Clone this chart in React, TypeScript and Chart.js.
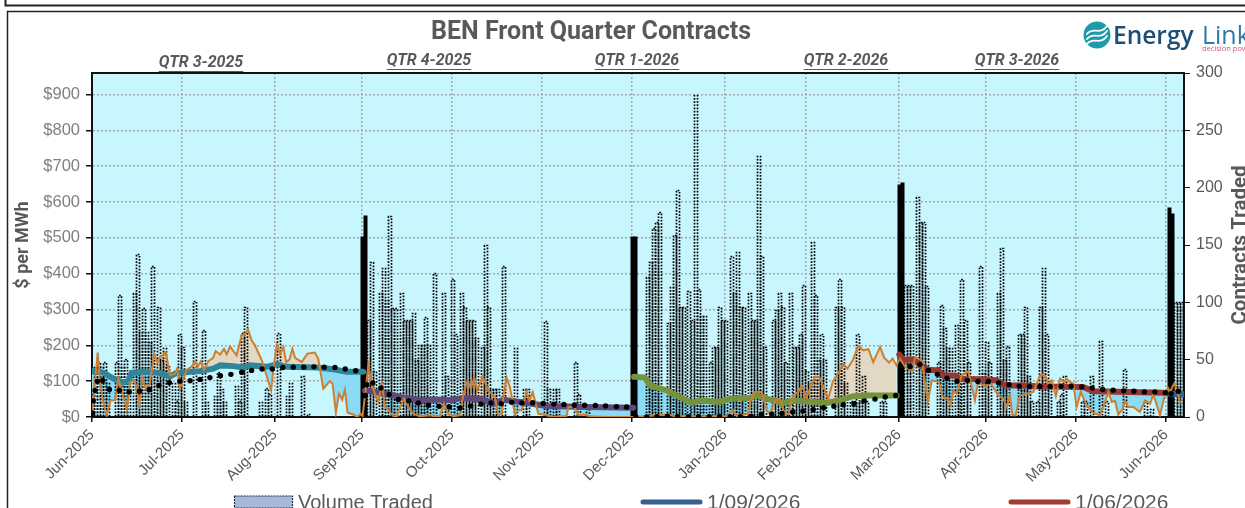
import React, { useEffect, useRef } from "react";
import { Chart, registerables } from "chart.js";

Chart.register(...registerables);

// x axis: day position along the trading calendar
const monthDays = [0, 30, 61, 90, 120, 150, 180, 211, 238, 269, 298, 328, 358];
const monthLabels = ["Jun-2025", "Jul-2025", "Aug-2025", "Sep-2025", "Oct-2025", "Nov-2025", "Dec-2025", "Jan-2026", "Feb-2026", "Mar-2026", "Apr-2026", "May-2026", "Jun-2026"];

// daily price (orange)
const priceDays = [0, 0.7, 1.9, 2.7, 3.6, 4.9, 6.2, 7.7, 8.8, 9.9, 11.6, 12.7, 14.3, 15.8, 16.8, 17.9, 19.3, 20.7, 21.8, 22.7, 24.6, 26, 27.7, 28.4, 29.3, 31.6, 33.2, 34.3, 35.2, 36.3, 37.3, 38.8, 40.4, 41.2, 42.7, 44, 44.9, 46, 48.2, 49.9, 51, 52, 53.2, 54.3, 56.6, 58.2, 59.7, 60.4, 61.6, 62.7, 63.8, 64.7, 65.8, 66.8, 67.7, 69.9, 71.8, 74.3, 75.4, 77.1, 79.3, 80.2, 81.3, 82.3, 83.4, 84.3, 85.2, 87.1, 88.4, 89.6, 90.2, 91.3, 92.1, 93.2, 94.3, 95.4, 96.6, 97.7, 98.8, 100.4, 101.6, 102.7, 104, 105.8, 107.1, 109.3, 112.7, 114.3, 116, 117.3, 118.8, 120.4, 122.7, 123.8, 125.2, 126.3, 127.4, 128.4, 130.2, 132.1, 134.3, 135.4, 136.6, 137.1, 138.2, 139.3, 141, 142.1, 143.2, 144.9, 145.8, 146.9, 148.8, 150.4, 153.8, 158.2, 158.8, 160.8, 162.1, 163.8, 166, 171.6, 180.4, 192.1, 194.3, 211.6, 213.6, 214.9, 218.8, 219.6, 221, 223.2, 224.9, 226, 227.7, 229.3, 231, 232.1, 233.6, 235.4, 236.6, 238.2, 241, 242.4, 244.3, 245.4, 246.9, 249.3, 250.4, 251.8, 253.6, 255.4, 257.1, 258.8, 260.4, 262.7, 264.1, 265.7, 266.9, 268.2, 269.3, 271, 273.6, 274.3, 276.6, 278.6, 279.9, 282.4, 283.4, 285.4, 286.2, 287.1, 288.2, 289.9, 292.1, 294.3, 295.4, 297.9, 299.3, 302.1, 303.8, 304.9, 306, 306.8, 307.9, 309.3, 311.6, 313.8, 316, 317.4, 318.8, 319.9, 321.3, 322.7, 324, 324.9, 326, 327.1, 328.2, 329.6, 331, 332.1, 333.8, 336, 337.1, 338.8, 339.9, 341, 342.1, 343.6, 344.3, 345.4, 347.1, 349.3, 351, 352.7, 353.8, 356, 357.7, 358.6, 359.3, 360.7, 361.8, 362.7];
const priceValues = [19, 70, 180, 93, 47, 5, 47, 47, 107, 74, 20, 98, 102, 37, 109, 79, 93, 177, 153, 167, 181, 116, 121, 135, 79, 132, 140, 156, 140, 156, 130, 156, 165, 184, 174, 190, 175, 197, 172, 228, 230, 245, 214, 200, 158, 116, 74, 130, 202, 177, 195, 153, 160, 190, 165, 153, 177, 180, 163, 79, 100, 93, 12, 65, 48, 76, 12, 7, 0, 9, 3, 80, 144, 93, 65, 42, 93, 28, 19, 3, 0, 28, 51, 23, 9, 2, 5, 2, 3, 37, 9, 2, 5, 65, 102, 79, 110, 74, 113, 74, 56, 5, 9, 56, 110, 84, 7, 19, 19, 70, 46, 70, 9, 7, 0, 3, 28, 28, 5, 7, 2, 0, 0, 7, 2, 2, 20, 3, 9, 46, 70, 70, 19, 9, 46, 51, 7, 9, 59, 70, 88, 56, 113, 112, 74, 51, 98, 130, 149, 135, 158, 198, 186, 189, 153, 195, 165, 152, 163, 144, 163, 140, 128, 167, 158, 42, 102, 98, 56, 51, 33, 74, 65, 116, 128, 46, 98, 84, 98, 60, 51, 28, 60, 5, 5, 60, 65, 70, 116, 119, 93, 102, 58, 107, 98, 107, 98, 93, 28, 70, 42, 28, 11, 5, 28, 70, 42, 45, 7, 23, 46, 28, 28, 14, 46, 37, 63, 5, 65, 82, 70, 93, 74, 37];

// front-quarter forward curve (thick line)
const curveDays = [0, 3.8, 7.1, 10.4, 12.1, 13.2, 17.1, 22.7, 26, 28.2, 36, 40.4, 42.7, 47.1, 50.4, 52.7, 58.2, 61.6, 64.9, 74.9, 80.4, 84.9, 90.4, 91, 98.2, 102.7, 109.3, 117.1, 119.3, 123.8, 130.4, 133.8, 137.1, 142.7, 151.6, 164.9, 180.4, 180.7, 184.3, 186, 191.6, 197.1, 199.9, 202.7, 209.3, 212.7, 219.3, 221.6, 224.9, 230.4, 233.8, 244.9, 249.3, 253.8, 258.2, 268.2, 269.1, 270.4, 274.3, 276, 278.8, 282.1, 283.8, 287.7, 289.3, 298.2, 301.6, 304.3, 310.4, 316, 330.4, 333.8, 357.1, 358.2, 363.8];
const curveValues = [128, 124, 107, 96, 100, 123, 126, 123, 113, 123, 128, 135, 144, 142, 138, 144, 140, 147, 140, 138, 133, 126, 126, 74, 65, 56, 47, 49, 47, 53, 49, 37, 48, 42, 31, 28, 26, 112, 110, 88, 74, 51, 39, 46, 42, 51, 53, 60, 51, 39, 46, 39, 47, 58, 60, 60, 174, 160, 160, 144, 132, 130, 116, 116, 107, 105, 102, 88, 88, 85, 84, 72, 68, 66, 63];
const curveBreaks = [90.7, 180.5, 268.7, 358];
const curveColors = ["#31859b", "#5f497a", "#76923c", "#953735", "#366092"];

// prior-date forward curve (black dots)
const dotDays = [0.2, 0.4, 1, 1.8, 3.6, 5.8, 9.1, 12.4, 15.8, 19.1, 22.3, 25.8, 29.3, 32.7, 36, 39.3, 42.8, 46.3, 49.9, 53.2, 56.7, 60.1, 63.6, 67.1, 70.6, 74, 77.4, 81, 84.4, 87.9, 91.1, 91.6, 93.6, 96.3, 99.1, 102.1, 105.6, 108.8, 112.1, 115.7, 119.1, 122.7, 126.2, 129.7, 133, 136.4, 139.9, 143.3, 146.9, 150.4, 153.9, 157.3, 160.8, 164.2, 167.8, 171.2, 174.8, 178.2, 181.3, 184.9, 188.3, 191.8, 195.2, 198.8, 202.2, 205.7, 209.2, 212.7, 216.1, 219.7, 223.1, 226.6, 230, 233.6, 237, 240.4, 243.9, 247.3, 250.4, 254, 257.4, 261, 264.4, 267.9, 272.7, 276, 278.8, 281.8, 285, 288.3, 291.8, 295.3, 298.8, 302.2, 305.7, 309.1, 312.5, 316, 319.4, 323, 326.4, 329.9, 333.4, 336.9, 340.4, 343.9, 347.3, 350.8, 354.3, 357.8, 359.7, 362.1];
const dotValues = [11, 45, 74, 100, 102, 77, 74, 70, 72, 76, 88, 96, 100, 101, 105, 110, 115, 119, 125, 130, 134, 134, 138, 139, 139, 140, 139, 138, 134, 129, 60, 90, 95, 81, 63, 49, 45, 39, 33, 30, 28, 25, 31, 36, 39, 37, 41, 39, 40, 38, 36, 35, 33, 33, 32, 31, 29, 28, 0, 0, 1, 2, 1, 1, 1, 1, 1, 1, 1, 2, 7, 8, 10, 14, 17, 21, 26, 30, 34, 37, 45, 50, 56, 60, 141, 147, 130, 119, 108, 100, 102, 99, 99, 95, 90, 86, 85, 85, 85, 86, 86, 84, 81, 77, 75, 73, 72, 70, 70, 68, 65, 72];

// contracts traded (bars, right axis)
const volumeDays = [0, 1, 2, 3, 4, 5, 8, 9, 10, 11, 12, 14, 15, 16, 17, 18, 19, 20, 21, 22, 23, 24, 25, 27, 28, 29, 30, 31, 34, 37, 38, 41, 42, 43, 44, 48, 49, 50, 51, 52, 56, 58, 59, 62, 65, 66, 70, 72, 90, 91, 92, 93, 94, 96, 97, 98, 99, 100, 101, 103, 104, 105, 106, 107, 108, 109, 110, 111, 112, 114, 117, 118, 120, 121, 123, 124, 125, 126, 127, 128, 130, 131, 132, 133, 134, 135, 137, 141, 144, 145, 151, 152, 154, 155, 161, 162, 165, 180, 181, 185, 186, 187, 188, 189, 192, 193, 194, 195, 196, 197, 199, 200, 201, 202, 203, 204, 206, 207, 208, 209, 210, 211, 213, 214, 215, 216, 217, 219, 220, 221, 222, 223, 224, 227, 228, 229, 230, 231, 233, 234, 235, 236, 237, 238, 239, 240, 241, 242, 243, 244, 248, 249, 250, 251, 253, 254, 255, 256, 257, 258, 263, 264, 269, 270, 271, 272, 273, 275, 276, 277, 278, 282, 283, 284, 285, 286, 288, 289, 290, 291, 292, 296, 297, 298, 299, 302, 303, 304, 305, 309, 310, 311, 312, 313, 315, 316, 317, 318, 319, 322, 323, 324, 330, 331, 333, 336, 338, 344, 351, 353, 359, 360, 361, 362, 363, 364];
const volumeContracts = [20, 44, 48, 44, 48, 30, 48, 106, 44, 51, 30, 108, 142, 74, 95, 74, 65, 132, 35, 96, 50, 60, 45, 30, 14, 72, 61, 13, 101, 76, 13, 18, 39, 24, 13, 27, 14, 73, 96, 1, 13, 25, 20, 73, 18, 30, 36, 3, 157, 175, 85, 135, 40, 108, 130, 102, 175, 95, 95, 108, 85, 85, 85, 91, 50, 63, 63, 87, 63, 126, 108, 36, 120, 72, 108, 96, 85, 85, 85, 69, 61, 150, 96, 24, 24, 24, 132, 60, 24, 24, 84, 24, 24, 24, 48, 20, 7, 157, 157, 122, 135, 165, 170, 179, 82, 113, 159, 198, 96, 96, 110, 85, 281, 112, 88, 88, 48, 61, 61, 96, 85, 85, 140, 108, 144, 96, 96, 108, 85, 85, 228, 140, 61, 85, 93, 108, 96, 48, 108, 61, 61, 72, 115, 40, 30, 153, 106, 50, 72, 50, 96, 120, 96, 30, 14, 14, 72, 14, 36, 14, 14, 14, 202, 204, 115, 115, 115, 192, 170, 170, 114, 48, 98, 78, 60, 60, 80, 35, 120, 85, 48, 132, 38, 65, 48, 108, 147, 50, 62, 72, 72, 96, 36, 14, 14, 96, 130, 72, 26, 14, 20, 36, 14, 14, 36, 66, 14, 42, 14, 7, 182, 177, 100, 100, 100, 100];
const rollDays = [90, 91, 180, 181, 269, 270, 359, 360];

const quarterLabels = ["QTR 3-2025", "QTR 4-2025", "QTR 1-2026", "QTR 2-2026", "QTR 3-2026"];
const legendLabels = ["Volume Traded", "1/09/2026", "1/06/2026"];

const GREY = "#595959";

const toPoints = (xs: number[], ys: number[]) => xs.map((x, i) => ({ x, y: ys[i] }));
const quarterOf = (x: number) => curveBreaks.filter((b) => x > b).length;

const framePlugin = {
  id: "frame",
  afterLayout(chart: any) {
    if (chart.titleBlock) chart.titleBlock.right = 1182;
  },
  beforeDraw(chart: any) {
    const { ctx, chartArea: a } = chart;
    ctx.save();
    ctx.fillStyle = "#fff";
    ctx.fillRect(0, 0, chart.width, chart.height);
    ctx.strokeStyle = "#222";
    ctx.lineWidth = 2;
    ctx.beginPath();
    ctx.moveTo(5.5, 0);
    ctx.lineTo(5.5, 5.5);
    ctx.lineTo(chart.width, 5.5);
    ctx.stroke();
    ctx.lineWidth = 1.5;
    ctx.beginPath();
    ctx.moveTo(7.5, chart.height);
    ctx.lineTo(7.5, 11.5);
    ctx.lineTo(chart.width, 11.5);
    ctx.stroke();
    ctx.fillStyle = "#c8f6ff";
    ctx.fillRect(a.left, a.top, a.right - a.left, a.bottom - a.top);
    ctx.restore();
  },
  afterDatasetDraw(chart: any, args: any) {
    const meta = chart.getDatasetMeta(args.index);
    if (meta.type !== "bar") return;
    const { ctx, chartArea: a } = chart;
    ctx.save();
    ctx.beginPath();
    ctx.rect(a.left, a.top, a.right - a.left, a.bottom - a.top);
    ctx.clip();
    ctx.strokeStyle = "#000";
    meta.data.forEach((bar: any, i: number) => {
      const { x, y, base, width } = bar.getProps(["x", "y", "base", "width"], true);
      const solid = rollDays.includes(volumeDays[i]);
      const l = Math.round(x - width / 2) + 0.5;
      const r = l + Math.round(width) - (solid ? 1 : 0);
      const t = Math.round(y) + 0.5;
      ctx.lineWidth = solid ? 2 : 1.7;
      ctx.setLineDash(solid ? [] : [1.7, 1.5]);
      ctx.beginPath();
      ctx.moveTo(l, base);
      ctx.lineTo(l, t);
      ctx.lineTo(r, t);
      ctx.lineTo(r, base);
      ctx.stroke();
    });
    ctx.restore();
  },
  afterDraw(chart: any) {
    const { ctx, chartArea: a } = chart;
    ctx.save();
    // plot frame top
    ctx.strokeStyle = "#111";
    ctx.lineWidth = 2;
    ctx.beginPath();
    ctx.moveTo(a.left, a.top);
    ctx.lineTo(a.right, a.top);
    ctx.stroke();

    // quarter captions
    const qx = [201, 429, 637, 846, 1017];
    const qy = [63, 61, 61, 61, 61];
    ctx.fillStyle = GREY;
    ctx.strokeStyle = GREY;
    ctx.lineWidth = 1;
    ctx.textAlign = "center";
    ctx.textBaseline = "middle";
    ctx.font = "italic bold 16px Roboto";
    quarterLabels.forEach((t, i) => {
      ctx.fillText(t, qx[i], qy[i]);
      const w = ctx.measureText(t).width;
      ctx.beginPath();
      ctx.moveTo(qx[i] - w / 2, qy[i] + 8.5);
      ctx.lineTo(qx[i] + w / 2, qy[i] + 8.5);
      ctx.stroke();
    });

    // right axis title
    ctx.save();
    ctx.translate(1241, 245);
    ctx.rotate(-Math.PI / 2);
    ctx.font = "bold 20.5px Roboto";
    ctx.fillText("Contracts Traded", 0, 0);
    ctx.restore();

    // legend
    ctx.textAlign = "left";
    ctx.fillStyle = "#a9b8d8";
    ctx.fillRect(234.5, 496, 58, 12);
    ctx.strokeStyle = "#1f2a44";
    ctx.lineWidth = 1.2;
    ctx.setLineDash([2, 1]);
    ctx.strokeRect(234.5, 496, 58, 12);
    ctx.setLineDash([]);
    ctx.fillStyle = GREY;
    ctx.font = "20px 'Liberation Sans'";
    ctx.fillText(legendLabels[0], 298, 503);
    ctx.font = "21px 'Liberation Sans'";
    ctx.fillText(legendLabels[1], 707, 503);
    ctx.fillText(legendLabels[2], 1075, 503);
    ctx.lineCap = "round";
    ctx.lineWidth = 5;
    ctx.strokeStyle = "#366092";
    ctx.beginPath();
    ctx.moveTo(643, 502);
    ctx.lineTo(700, 502);
    ctx.stroke();
    ctx.strokeStyle = "#a33c38";
    ctx.beginPath();
    ctx.moveTo(1011, 502);
    ctx.lineTo(1068, 502);
    ctx.stroke();

    // logo
    ctx.fillStyle = "#1f9aa8";
    ctx.beginPath();
    ctx.arc(1097, 35, 13.5, 0, Math.PI * 2);
    ctx.fill();
    ctx.strokeStyle = "#fff";
    ctx.lineWidth = 1.8;
    [-5, 0, 5].forEach((d) => {
      ctx.beginPath();
      ctx.moveTo(1087, 39 + d);
      ctx.bezierCurveTo(1093, 31 + d, 1100, 41 + d, 1107, 31 + d);
      ctx.stroke();
    });
    ctx.textBaseline = "alphabetic";
    ctx.fillStyle = "#1b4e78";
    ctx.font = "600 24.5px 'Open Sans'";
    ctx.fillText("Energy", 1113, 44);
    ctx.fillStyle = "#2f78ab";
    ctx.font = "25px 'Open Sans'";
    ctx.fillText("Link", 1202, 44);
    ctx.fillStyle = "#c9587c";
    ctx.font = "7.5px 'Open Sans'";
    ctx.fillText("decision power", 1202, 51);
    ctx.restore();
  },
};

export default function App() {
  const ref = useRef<HTMLCanvasElement>(null);

  useEffect(() => {
    const chart = new Chart(ref.current as HTMLCanvasElement, {
      type: "line",
      plugins: [framePlugin],
      data: {
        datasets: [
          {
            type: "line",
            label: "Forward curve",
            data: toPoints(curveDays, curveValues),
            yAxisID: "y",
            order: 2,
            borderColor: curveColors[0],
            borderWidth: 6,
            borderCapStyle: "round",
            pointRadius: 0,
            fill: false,
            segment: {
              borderColor: (c: any) => {
                const a = quarterOf(c.p0.parsed.x);
                const b = quarterOf(c.p1.parsed.x);
                return a === b ? curveColors[a] : "rgba(0,0,0,0)";
              },
            },
          },
          {
            type: "line",
            label: "Price",
            data: toPoints(priceDays, priceValues),
            yAxisID: "y",
            order: 1,
            borderColor: "#cc7f33",
            borderWidth: 2,
            pointRadius: 0,
            fill: { target: 0, above: "#e3d8c3", below: "#8adcf6" },
          },
          {
            type: "line",
            label: "Prior curve",
            data: toPoints(dotDays, dotValues),
            yAxisID: "y",
            order: 0,
            showLine: false,
            pointRadius: 2.7,
            pointBackgroundColor: "#000",
            pointBorderWidth: 0,
          },
          {
            type: "bar",
            label: "Volume Traded",
            data: toPoints(volumeDays, volumeContracts),
            yAxisID: "y1",
            order: 3,
            barThickness: 3,
            backgroundColor: "rgba(0,0,0,0)",
            borderWidth: 0,
          },
        ],
      } as any,
      options: {
        animation: false,
        responsive: false,
        events: [],
        layout: { padding: 0 },
        plugins: {
          legend: { display: false },
          tooltip: { enabled: false },
          filler: { drawTime: "beforeDatasetsDraw", propagate: false },
          title: {
            display: true,
            text: "BEN Front Quarter Contracts",
            color: GREY,
            font: { family: "Roboto", size: 25, weight: "bold", lineHeight: 1.2 },
            padding: { top: 17.5, bottom: 25.5 },
          },
        },
        scales: {
          x: {
            type: "linear",
            offset: false,
            min: 0,
            max: 364,
            afterFit: (s: any) => {
              s.height = 91;
            },
            afterBuildTicks: (s: any) => {
              s.ticks = monthDays.map((value) => ({ value }));
            },
            grid: { color: "#a8a8a8", tickColor: "#111", tickLength: 5, lineWidth: 1.5, offset: false },
            border: { color: "#111", width: 2, dash: [2, 2] },
            ticks: {
              autoSkip: false,
              maxRotation: 45,
              minRotation: 45,
              padding: 4,
              color: GREY,
              font: { family: "'Liberation Sans'", size: 15 },
              callback: (v: any) => monthLabels[monthDays.indexOf(v)] ?? "",
            },
          },
          y: {
            position: "left",
            min: 0,
            max: 960,
            afterFit: (s: any) => {
              s.width = 92;
            },
            grid: { color: "#a8a8a8", tickColor: "#111", tickLength: 6, lineWidth: 1.5 },
            border: { color: "#111", width: 2, dash: [2, 2] },
            ticks: {
              stepSize: 100,
              includeBounds: false,
              padding: 6,
              color: "#7f7f7f",
              font: { family: "'Liberation Sans'", size: 16.5 },
              callback: (v: any) => "$" + v,
            },
            title: {
              display: true,
              text: "$ per MWh",
              color: GREY,
              font: { family: "Roboto", size: 18, weight: "bold", lineHeight: 1.2 },
              padding: { top: 13, bottom: 0 },
            },
          },
          y1: {
            position: "right",
            min: 0,
            max: 300,
            afterFit: (s: any) => {
              s.width = 61;
            },
            grid: { drawOnChartArea: false, tickColor: "#111", tickLength: 6 },
            border: { color: "#111", width: 2 },
            ticks: {
              stepSize: 50,
              padding: 6,
              color: GREY,
              font: { family: "'Liberation Sans'", size: 16 },
            },
          },
        },
      } as any,
    });
    return () => chart.destroy();
  }, []);

  return (
    <div style={{ position: "fixed", left: 0, top: 0, width: 1245, height: 508, overflow: "hidden", background: "#fff" }}>
      <canvas ref={ref} width={1245} height={508} style={{ display: "block" }} />
    </div>
  );
}
